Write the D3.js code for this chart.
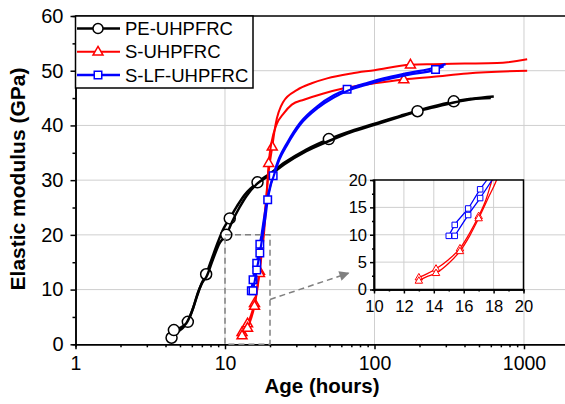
<!DOCTYPE html>
<meta charset="utf-8">
<head>
  <style>
    body { margin: 0; background: #fff; font-family: Arial, "Liberation Sans", sans-serif; }
    .axis path, .axis line { stroke: #000; stroke-width: 1.5px; }
    .axis text { font-family: Arial, "Liberation Sans", sans-serif; fill: #000; }
    .grid line { stroke: #cfcfcf; stroke-width: 1px; }
  </style>
  <script src="https://d3js.org/d3.v7.min.js"></script>
</head>
<body>
<div id="chart"></div>
<script>
  // *** tick values
  var xTicks = [1, 10, 100, 1000];
  var xMinor = [2,3,4,5,6,7,8,9,20,30,40,50,60,70,80,90,200,300,400,500,600,700,800,900,2000];
  var yTicks = [0, 10, 20, 30, 40, 50, 60];
  var yMinor = [5, 15, 25, 35, 45, 55];
  var insetXTicks = [10, 12, 14, 16, 18, 20];
  var insetXMinor = [11, 13, 15, 17, 19];
  var insetYTicks = [0, 5, 10, 15, 20];
  var insetYMinor = [2.5, 7.5, 12.5, 17.5];

  var seriesNames = ["PE-UHPFRC", "S-UHPFRC", "S-LF-UHPFRC"];
  var seriesColors = ["#000000", "#ff0000", "#0000ff"];

  // *** [age (hours), elastic modulus (GPa)], two specimens per mix
  var pe1 = [[4.39,1.2],[4.8,2.2],[5.3,3.2],[5.64,4.1],[6.1,6.5],[6.6,9.5],[7.1,11.5],[7.48,12.8],[8.2,15.8],[9.0,18.8],[9.8,21.2],[10.76,23],[12,25.2],[13.5,27.3],[15,28.6],[16.5,29.6],[20,31.2],[25,33.2],[35,35.6],[49.5,37.5],[70,39],[100,40.3],[150,41.8],[194,42.7],[250,43.5],[339,44.4],[450,44.9],[628,45.3]];
  var pe2 = [[4.55,2.6],[5.0,3.0],[5.5,3.8],[6.0,6],[6.5,8.8],[7.0,11.2],[7.5,12.3],[8.3,15.5],[9.2,18.5],[10.2,20],[11.2,22.5],[12.5,25],[14,27.2],[16.5,29.4],[20,30.9],[25,32.9],[35,35.3],[50,37.2],[70,38.8],[100,40.1],[150,41.6],[194,42.6],[250,43.3],[339,44.2],[450,44.8],[600,45.0]];
  var pe1Marks = [[4.39,1.2],[5.64,4.1],[7.48,12.8],[10.76,23],[16.5,29.6],[49.5,37.5],[339,44.4]];
  var pe2Marks = [[4.55,2.6],[10.2,20],[194,42.6]];

  var s1 = [[13.0,2.2],[13.5,2.8],[14.15,3.8],[15.0,5.5],[15.75,7.5],[16.4,10.3],[17.0,13.4],[17.5,16.5],[17.9,20],[18.6,25],[19.4,30.5],[20.7,36.1],[21.8,40.2],[24.5,44.3],[30.4,46.5],[38,47.7],[48.2,48.6],[70,49.5],[100,50.1],[174,51.1],[249,51.2],[400,51.3],[661,51.4],[1050,52.1]];
  var s2 = [[13.0,1.6],[13.5,2.3],[14.15,3.0],[15.0,4.8],[15.75,7.0],[16.4,9.8],[17.0,13.0],[17.6,16.5],[18.2,20],[18.9,26],[19.6,33.1],[20.5,37],[22,40],[24.7,42.2],[28,43.8],[33.7,44.7],[45,45.8],[62.4,46.8],[100,47.7],[157,48.4],[249,48.9],[417,49.5],[1050,50.0]];
  var s1Marks = [[13.0,2.2],[14.15,3.8],[15.75,7.5],[17.0,13.4],[20.7,36.1],[174,51.1]];
  var s2Marks = [[13.0,1.6],[14.15,3.0],[15.75,7.0],[17.0,13.0],[19.6,33.1],[157,48.4]];

  var lf1 = [[15.0,9.8],[15.4,11.8],[16.3,14.8],[17.1,18.3],[17.55,20],[18.3,23.3],[19.1,26.3],[20,28.8],[21.0,30.8],[23,34],[26,36.8],[32,40.6],[41.4,43.5],[53.4,45.5],[65.6,46.6],[90,47.8],[115,48.6],[170,49.6],[256,50.6],[299,51.2]];
  var lf2 = [[15.4,9.8],[16.3,13.6],[17.1,16.7],[17.9,20],[18.6,23],[19.3,26.4],[20.2,29],[21.2,30.8],[23,33.6],[26,36.4],[32,40.2],[41.4,43.1],[53.4,45.1],[65.6,46.3],[90,47.5],[115,48.3],[170,49.3],[256,50.2],[290,50.8]];
  var lf1Marks = [[15.0,9.8],[15.4,11.8],[16.3,14.8],[17.1,18.3],[21.0,30.8],[65.6,46.6]];
  var lf2Marks = [[15.4,9.8],[16.3,13.6],[17.1,16.7],[19.3,26.4],[256,50.2]];

  // zoom box and arrow in main-plot data units
  var zoomBox = {x0: 10, x1: 20, y0: 0, y1: 20};
  var arrowPts = [[20, 8.2], [67, 13.0]];

  // *** Set up svg
  var svg = d3.select("#chart").append("svg")
    .attr("width", 565)
    .attr("height", 404);

  var x = d3.scaleLog().domain([1, 2000]).range([75.5, 569]);
  var y = d3.scaleLinear().domain([0, 60]).range([344.3, 16]);

  var ix = d3.scaleLinear().domain([10, 20]).range([374, 523.5]);
  var iy = d3.scaleLinear().domain([0, 20]).range([289.5, 180]);

  // grid
  var grid = svg.append("g").attr("class", "grid");
  grid.selectAll(".gx").data([10, 100, 1000]).enter().append("line")
    .attr("x1", function(d) { return x(d); }).attr("x2", function(d) { return x(d); })
    .attr("y1", y(0)).attr("y2", y(60));
  grid.selectAll(".gy").data([10, 20, 30, 40, 50]).enter().append("line")
    .attr("x1", x(1)).attr("x2", x(2000))
    .attr("y1", function(d) { return y(d); }).attr("y2", function(d) { return y(d); });

  // top frame
  svg.append("line")
    .attr("x1", x(1)).attr("x2", x(2000))
    .attr("y1", y(60)).attr("y2", y(60))
    .attr("stroke", "#000").attr("stroke-width", 1.5);

  // axes
  var fmt = function(d) { return d; };
  svg.append("g").attr("class", "axis")
    .attr("transform", "translate(0," + y(0) + ")")
    .call(d3.axisBottom(x).tickValues(xMinor).tickSize(3).tickFormat(""));
  svg.append("g").attr("class", "axis")
    .attr("transform", "translate(0," + y(0) + ")")
    .call(d3.axisBottom(x).tickValues(xTicks).tickSize(5).tickPadding(7).tickFormat(fmt).tickSizeOuter(0))
    .selectAll("text").style("font-size", "19.5px");

  svg.append("g").attr("class", "axis")
    .attr("transform", "translate(" + x(1) + ",0)")
    .call(d3.axisLeft(y).tickValues(yMinor).tickSize(3).tickFormat(""));
  svg.append("g").attr("class", "axis")
    .attr("transform", "translate(" + x(1) + ",0)")
    .call(d3.axisLeft(y).tickValues(yTicks).tickSize(5).tickPadding(7).tickSizeOuter(0))
    .selectAll("text").style("font-size", "20px");

  // axis titles
  svg.append("text")
    .attr("x", 322).attr("y", 393)
    .attr("text-anchor", "middle")
    .style("font-size", "20.5px").style("font-weight", "bold")
    .text("Age (hours)");
  svg.append("text")
    .attr("transform", "translate(25,179) rotate(-90)")
    .attr("text-anchor", "middle")
    .style("font-size", "21px").style("font-weight", "bold")
    .text("Elastic modulus (GPa)");

  // *** markers
  function markerPath(kind, s) {
    if (kind === "square") {
      var h = s / 2;
      return "M" + (-h) + "," + (-h) + "h" + s + "v" + s + "h" + (-s) + "Z";
    }
    if (kind === "triangle") {
      var hh = s * 0.866;
      return "M0," + (-hh * 0.62) + "L" + (s / 2) + "," + (hh * 0.38) + "L" + (-s / 2) + "," + (hh * 0.38) + "Z";
    }
    var r = s / 2;
    return "M" + r + ",0A" + r + "," + r + " 0 1,1 " + (-r) + ",0A" + r + "," + r + " 0 1,1 " + r + ",0Z";
  }

  function drawCurve(g, xs, ys, data, marks, color, lw, kind, size, mw) {
    var line = d3.line()
      .x(function(d) { return xs(d[0]); })
      .y(function(d) { return ys(d[1]); })
      .curve(d3.curveMonotoneX);
    g.append("path")
      .datum(data)
      .attr("d", line)
      .attr("fill", "none")
      .attr("stroke", color)
      .attr("stroke-width", lw)
      .attr("stroke-linejoin", "round");
    g.selectAll(null)
      .data(marks)
      .enter().append("path")
      .attr("transform", function(d) { return "translate(" + xs(d[0]) + "," + ys(d[1]) + ")"; })
      .attr("d", markerPath(kind, size))
      .attr("fill", "#fff")
      .attr("stroke", color)
      .attr("stroke-width", mw);
  }

  var plot = svg.append("g");
  drawCurve(plot, x, y, pe1, pe1Marks, seriesColors[0], 2.5, "circle", 11, 1.5);
  drawCurve(plot, x, y, pe2, pe2Marks, seriesColors[0], 2.5, "circle", 11, 1.5);
  drawCurve(plot, x, y, s1, s1Marks, seriesColors[1], 2, "triangle", 10, 1.5);
  drawCurve(plot, x, y, s2, s2Marks, seriesColors[1], 2, "triangle", 10, 1.5);
  drawCurve(plot, x, y, lf1, lf1Marks, seriesColors[2], 2.2, "square", 7.5, 1.5);
  drawCurve(plot, x, y, lf2, lf2Marks, seriesColors[2], 2.2, "square", 7.5, 1.5);

  // zoom box and arrow
  svg.append("rect")
    .attr("x", x(zoomBox.x0)).attr("y", y(zoomBox.y1))
    .attr("width", x(zoomBox.x1) - x(zoomBox.x0))
    .attr("height", y(zoomBox.y0) - y(zoomBox.y1))
    .attr("fill", "none").attr("stroke", "#808080")
    .attr("stroke-width", 1.5).attr("stroke-dasharray", "6,4");

  svg.append("defs").append("marker")
    .attr("id", "arrowBig")
    .attr("viewBox", "0 0 10 10")
    .attr("refX", 9).attr("refY", 5)
    .attr("markerWidth", 16).attr("markerHeight", 10)
    .attr("markerUnits", "userSpaceOnUse")
    .attr("orient", "auto")
    .append("path").attr("d", "M0,0L10,5L0,10Z").attr("fill", "#808080");

  svg.append("line")
    .attr("x1", x(arrowPts[0][0])).attr("y1", y(arrowPts[0][1]))
    .attr("x2", x(arrowPts[1][0])).attr("y2", y(arrowPts[1][1]))
    .attr("stroke", "#808080").attr("stroke-width", 1.5)
    .attr("stroke-dasharray", "6,4")
    .attr("marker-end", "url(#arrowBig)");

  // *** inset
  var inset = svg.append("g");
  inset.append("rect")
    .attr("x", ix(10)).attr("y", iy(20))
    .attr("width", ix(20) - ix(10)).attr("height", iy(0) - iy(20))
    .attr("fill", "#fff");
  var ig = inset.append("g").attr("class", "grid");
  ig.selectAll(".a").data([12, 14, 16, 18]).enter().append("line")
    .attr("x1", function(d) { return ix(d); }).attr("x2", function(d) { return ix(d); })
    .attr("y1", iy(0)).attr("y2", iy(20));
  ig.selectAll(".b").data([5, 10, 15]).enter().append("line")
    .attr("x1", ix(10)).attr("x2", ix(20))
    .attr("y1", function(d) { return iy(d); }).attr("y2", function(d) { return iy(d); });

  svg.append("defs").append("clipPath").attr("id", "insetClip")
    .append("rect")
    .attr("x", ix(10)).attr("y", iy(20))
    .attr("width", ix(20) - ix(10)).attr("height", iy(0) - iy(20));

  var ip = inset.append("g").attr("clip-path", "url(#insetClip)");
  drawCurve(ip, ix, iy, s1, s1Marks, seriesColors[1], 1.3, "triangle", 7.5, 1);
  drawCurve(ip, ix, iy, s2, s2Marks, seriesColors[1], 1.3, "triangle", 7.5, 1);
  drawCurve(ip, ix, iy, lf1, lf1Marks, seriesColors[2], 1.3, "square", 5.5, 1);
  drawCurve(ip, ix, iy, lf2, lf2Marks, seriesColors[2], 1.3, "square", 5.5, 1);

  inset.append("rect")
    .attr("x", ix(10)).attr("y", iy(20))
    .attr("width", ix(20) - ix(10)).attr("height", iy(0) - iy(20))
    .attr("fill", "none").attr("stroke", "#000").attr("stroke-width", 1.5);

  inset.append("g").attr("class", "axis")
    .attr("transform", "translate(0," + iy(0) + ")")
    .call(d3.axisBottom(ix).tickValues(insetXMinor).tickSize(2).tickFormat(""));
  inset.append("g").attr("class", "axis")
    .attr("transform", "translate(0," + iy(0) + ")")
    .call(d3.axisBottom(ix).tickValues(insetXTicks).tickSize(4).tickPadding(7).tickSizeOuter(0))
    .selectAll("text").style("font-size", "16.5px");
  inset.append("g").attr("class", "axis")
    .attr("transform", "translate(" + ix(10) + ",0)")
    .call(d3.axisLeft(iy).tickValues(insetYMinor).tickSize(2).tickFormat(""));
  inset.append("g").attr("class", "axis")
    .attr("transform", "translate(" + ix(10) + ",0)")
    .call(d3.axisLeft(iy).tickValues(insetYTicks).tickSize(4).tickPadding(3).tickSizeOuter(0))
    .selectAll("text").style("font-size", "16.5px");

  // *** legend
  var legend = svg.append("g");
  legend.append("rect")
    .attr("x", 75.5).attr("y", 16)
    .attr("width", 177.5).attr("height", 72)
    .attr("fill", "#fff").attr("stroke", "#000").attr("stroke-width", 1.5);
  var kinds = ["circle", "triangle", "square"];
  var ksize = [10, 10, 7.5];
  var rows = legend.selectAll(".row").data(seriesNames).enter().append("g")
    .attr("transform", function(d, i) { return "translate(0," + (28.5 + i * 23.3) + ")"; });
  rows.append("line")
    .attr("x1", 77).attr("x2", 120)
    .attr("stroke", function(d, i) { return seriesColors[i]; })
    .attr("stroke-width", function(d, i) { return i === 1 ? 2 : 2.5; });
  rows.append("path")
    .attr("transform", "translate(98,0)")
    .attr("d", function(d, i) { return markerPath(kinds[i], ksize[i]); })
    .attr("fill", "#fff")
    .attr("stroke", function(d, i) { return seriesColors[i]; })
    .attr("stroke-width", 1.5);
  rows.append("text")
    .attr("x", 125).attr("y", 6.5)
    .style("font-size", "18.5px")
    .text(function(d) { return d; });
</script>
</body>
